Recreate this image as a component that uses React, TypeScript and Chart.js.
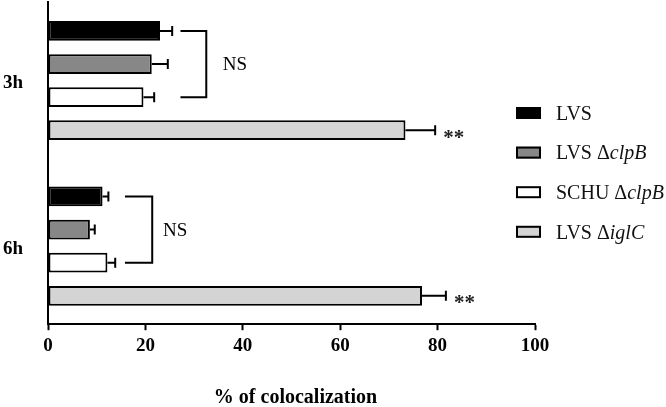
import React, { useEffect, useRef } from 'react';
import { Chart, registerables } from 'chart.js';

Chart.register(...registerables);

// ---- data ----
const categories = ['3h', '6h'];
const seriesNames = ['LVS', 'LVS ΔclpB', 'SCHU ΔclpB', 'LVS ΔiglC'];
const lvs = [23.0, 11.2];
const lvsClpB = [21.3, 8.6];
const schuClpB = [19.6, 12.2];
const lvsIglC = [73.4, 76.8];
const lvsErr = [2.5, 1.2];
const lvsClpBErr = [3.3, 1.0];
const schuClpBErr = [2.2, 1.6];
const lvsIglCErr = [6.1, 4.9];
const xTicks = [0, 20, 40, 60, 80, 100];
const axisTitle = '% of colocalization';
// annotations (in data units of the x axis)
const starLabels = ['**', '**'];
const nsLabels = ['NS', 'NS'];
const bracketFrom = [27.2, 15.8];
const bracketTo = [32.5, 21.4];
const nsAt = [38.4, 26.1];

const seriesValues = [lvs, lvsClpB, schuClpB, lvsIglC];
const seriesErrors = [lvsErr, lvsClpBErr, schuClpBErr, lvsIglCErr];
const colors = ['#000000', '#878787', '#ffffff', '#d4d4d4'];

const FONT = '"Liberation Serif", "Times New Roman", serif';

const overlay = {
  id: 'overlay',
  afterDatasetsDraw(chart: any) {
    const ctx = chart.ctx;
    const xs = chart.scales.x;
    const ys = chart.scales.y;
    const area = chart.chartArea;
    ctx.save();
    ctx.strokeStyle = '#000';
    ctx.fillStyle = '#000';
    ctx.lineWidth = 2;
    ctx.lineJoin = 'miter';

    // error bars + stars
    seriesValues.forEach((vals, di) => {
      const meta = chart.getDatasetMeta(di);
      meta.data.forEach((bar: any, i: number) => {
        const v = vals[i];
        const e = seriesErrors[di][i];
        const x0 = xs.getPixelForValue(v);
        const x1 = xs.getPixelForValue(v + e);
        const y = bar.y;
        ctx.beginPath();
        ctx.moveTo(x0, y);
        ctx.lineTo(x1, y);
        ctx.moveTo(x1, y - 5);
        ctx.lineTo(x1, y + 5);
        ctx.stroke();
        if (di === 3) {
          ctx.font = `bold 21px ${FONT}`;
          ctx.fillStyle = '#222';
          ctx.textAlign = 'left';
          ctx.textBaseline = 'alphabetic';
          ctx.fillText(starLabels[i], x1 + 8, y + 13.5);
          ctx.fillStyle = '#000';
        }
      });
    });

    // NS brackets + category labels
    categories.forEach((c, i) => {
      const yTop = chart.getDatasetMeta(0).data[i].y;
      const yBot = chart.getDatasetMeta(2).data[i].y;
      const xa = xs.getPixelForValue(bracketFrom[i]);
      const xb = xs.getPixelForValue(bracketTo[i]);
      ctx.beginPath();
      ctx.moveTo(xa, yTop);
      ctx.lineTo(xb, yTop);
      ctx.lineTo(xb, yBot);
      ctx.lineTo(xa, yBot);
      ctx.stroke();
      ctx.font = `19px ${FONT}`;
      ctx.textAlign = 'center';
      ctx.textBaseline = 'alphabetic';
      ctx.fillText(nsLabels[i], xs.getPixelForValue(nsAt[i]), (yTop + yBot) / 2 + 6);

      ctx.font = `bold 19px ${FONT}`;
      ctx.textAlign = 'right';
      ctx.fillText(c, area.left - 25, ys.getPixelForValue(i) + 7.5);
    });

    // legend
    const lx = 516;
    const ly0 = 113;
    const ldy = 39.6;
    seriesNames.forEach((name, i) => {
      const y = ly0 + i * ldy;
      ctx.fillStyle = colors[i];
      ctx.fillRect(lx, y - 6, 25, 12);
      ctx.strokeStyle = '#000';
      ctx.lineWidth = 2;
      ctx.strokeRect(lx + 1, y - 5, 23, 10);
      const k = name.indexOf('Δ');
      const plain = k >= 0 ? name.slice(0, k + 1) : name;
      const ital = k >= 0 ? name.slice(k + 1) : '';
      ctx.fillStyle = '#111';
      ctx.textAlign = 'left';
      ctx.textBaseline = 'alphabetic';
      ctx.font = `20px ${FONT}`;
      let tx = 556;
      ctx.fillText(plain, tx, y + 6.8);
      tx += ctx.measureText(plain).width;
      if (ital) {
        ctx.font = `italic 20px ${FONT}`;
        ctx.fillText(ital, tx, y + 6.8);
      }
    });

    // axis title
    ctx.fillStyle = '#000';
    ctx.font = `bold 20px ${FONT}`;
    ctx.textAlign = 'center';
    ctx.textBaseline = 'alphabetic';
    ctx.fillText(axisTitle, (area.left + area.right) / 2 + 4, 403);

    ctx.restore();
  },
};

export default function App() {
  const ref = useRef<HTMLCanvasElement | null>(null);

  useEffect(() => {
    if (!ref.current) return;
    const chart = new Chart(ref.current, {
      type: 'bar',
      data: {
        labels: categories,
        datasets: seriesNames.map((name, di) => ({
          label: name,
          data: seriesValues[di].map((v, i) => ({ x: v, y: i })),
          backgroundColor: colors[di],
          borderColor: '#000',
          borderWidth: 2,
          borderSkipped: false,
          categoryPercentage: 0.8,
          barPercentage: 0.597,
        })),
      },
      options: {
        indexAxis: 'y',
        animation: false,
        responsive: true,
        maintainAspectRatio: false,
        layout: { padding: { left: 48, right: 131, top: 2, bottom: 46 } },
        plugins: {
          legend: { display: false },
          tooltip: { enabled: false },
          title: { display: false },
        },
        scales: {
          x: {
            type: 'linear',
            min: 0,
            max: 100,
            afterBuildTicks: (s: any) => {
              s.ticks = xTicks.map((v) => ({ value: v }));
            },
            ticks: {
              color: '#000',
              padding: 4,
              font: { family: FONT, size: 19, weight: 'bold' },
            },
            grid: {
              display: true,
              drawOnChartArea: false,
              drawTicks: true,
              tickLength: 6,
              tickWidth: 2,
              tickColor: '#000',
            },
            border: { display: true, color: '#000', width: 2 },
          },
          y: {
            type: 'linear',
            reverse: true,
            offset: false,
            min: -0.4746,
            max: 1.4716,
            afterBuildTicks: (s: any) => {
              s.ticks = categories.map((_, i) => ({ value: i }));
            },
            ticks: { display: false },
            grid: { display: false, drawTicks: false, offset: false },
            border: { display: true, color: '#000', width: 2 },
          },
        },
      } as any,
      plugins: [overlay],
    });
    return () => chart.destroy();
  }, []);

  return (
    <div style={{ position: 'absolute', left: 0, top: 0, width: 666, height: 407, background: '#fff' }}>
      <canvas ref={ref} />
    </div>
  );
}
